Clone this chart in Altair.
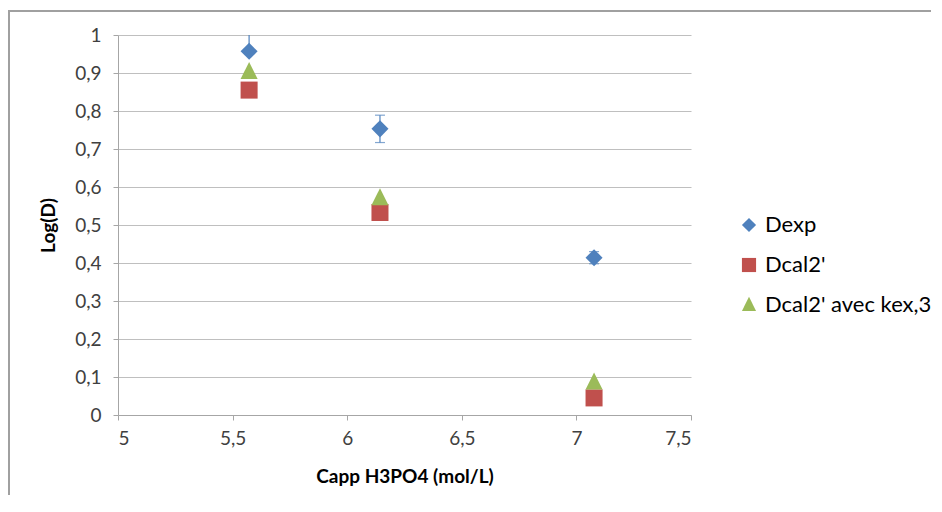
import altair as alt
import pandas as pd

x_vals = [5.572, 6.143, 7.077]
dexp = [0.957, 0.753, 0.414]
dexp_err_plus = [0.045, 0.036, 0.016]
dexp_err_minus = [0.005, 0.036, 0.016]
dcal2 = [0.855, 0.533, 0.045]
dcal2_kex = [0.903, 0.571, 0.086]
series = ["Dexp", "Dcal2'", "Dcal2' avec kex,3"]
colors = ["#4F81BD", "#C0504D", "#9BBB59"]
shapes = ["diamond", "square", "M0,-1.15L1,0.85L-1,0.85Z"]
y_ticks = [0, 0.1, 0.2, 0.3, 0.4, 0.5, 0.6, 0.7, 0.8, 0.9, 1]
x_ticks = [5, 5.5, 6, 6.5, 7, 7.5]

rows = []
for xv, a, b, c in zip(x_vals, dexp, dcal2, dcal2_kex):
    rows.append({"x": xv, "y": a, "s": series[0]})
    rows.append({"x": xv, "y": b, "s": series[1]})
    rows.append({"x": xv, "y": c, "s": series[2]})
df = pd.DataFrame(rows)
err = pd.DataFrame({"x": x_vals,
                    "lo": [v - e for v, e in zip(dexp, dexp_err_minus)],
                    "hi": [v + e for v, e in zip(dexp, dexp_err_plus)]})

FONT = "Lato"
W, H = 573, 380

xs = alt.Scale(domain=[5, 7.5], nice=False, zero=False)
ys = alt.Scale(domain=[0, 1], nice=False)

LBL = "replace(format(datum.value, '~g'), '.', ',')"
xaxis = alt.Axis(values=x_ticks, title="Capp H3PO4 (mol/L)", grid=False,
                 labelExpr=LBL, tickSize=5, tickColor="#a6a6a6", domainColor="#a6a6a6",
                 labelPadding=9, titlePadding=19,
                 labelFont=FONT, labelFontSize=19, labelColor="#404040",
                 titleFont=FONT, titleFontSize=19, titleFontWeight="bold", titleColor="#000000")
yaxis = alt.Axis(values=y_ticks, title="Log(D)", grid=True, gridColor="#bfbfbf",
                 labelExpr=LBL, tickSize=5, tickColor="#a6a6a6", domainColor="#a6a6a6",
                 labelPadding=12, titlePadding=16,
                 labelFont=FONT, labelFontSize=19, labelColor="#404040",
                 titleFont=FONT, titleFontSize=19, titleFontWeight="bold", titleColor="#000000")

X = lambda f: alt.X(f, scale=xs, axis=xaxis)
Y = lambda f: alt.Y(f, scale=ys, axis=yaxis)

err_rule = alt.Chart(err).mark_rule(color=colors[0], strokeWidth=1.2, clip=True).encode(
    x=X("x:Q"), y=Y("lo:Q"), y2="hi:Q")
cap_lo = alt.Chart(err).mark_tick(color=colors[0], size=10, thickness=1.2, orient="horizontal", clip=True).encode(
    x=X("x:Q"), y=Y("lo:Q"))
cap_hi = alt.Chart(err).mark_tick(color=colors[0], size=10, thickness=1.2, orient="horizontal", clip=True).encode(
    x=X("x:Q"), y=Y("hi:Q"))

points = alt.Chart(df).mark_point(filled=True, opacity=1, size=290).encode(
    x=X("x:Q"),
    y=Y("y:Q"),
    color=alt.Color("s:N", scale=alt.Scale(domain=series, range=colors),
                    legend=alt.Legend(title=None, orient="none", legendX=620, legendY=179,
                                      labelFontSize=22, labelFont=FONT, symbolSize=200,
                                      symbolStrokeWidth=0, rowPadding=18, labelOffset=5,
                                      labelLimit=400, labelColor="#000000")),
    shape=alt.Shape("s:N", scale=alt.Scale(domain=series, range=shapes), legend=None),
)

border_top = alt.Chart(pd.DataFrame({"a": [0]})).mark_rule(color="#a0a0a0", strokeWidth=2).encode(
    x=alt.value(-110), x2=alt.value(830), y=alt.value(-24))
border_left = alt.Chart(pd.DataFrame({"a": [0]})).mark_rule(color="#a0a0a0", strokeWidth=2).encode(
    x=alt.value(-109), y=alt.value(-25), y2=alt.value(485))

chart = alt.layer(err_rule, cap_lo, cap_hi, points, border_top, border_left).properties(
    width=W, height=H,
    background="white",
    autosize=alt.AutoSizeParams(type="none"),
    padding={"left": 110, "top": 27, "right": 240, "bottom": 80},
).configure_view(stroke=None)

chart.save("out.html", embed_options={"renderer": "svg", "actions": False})
